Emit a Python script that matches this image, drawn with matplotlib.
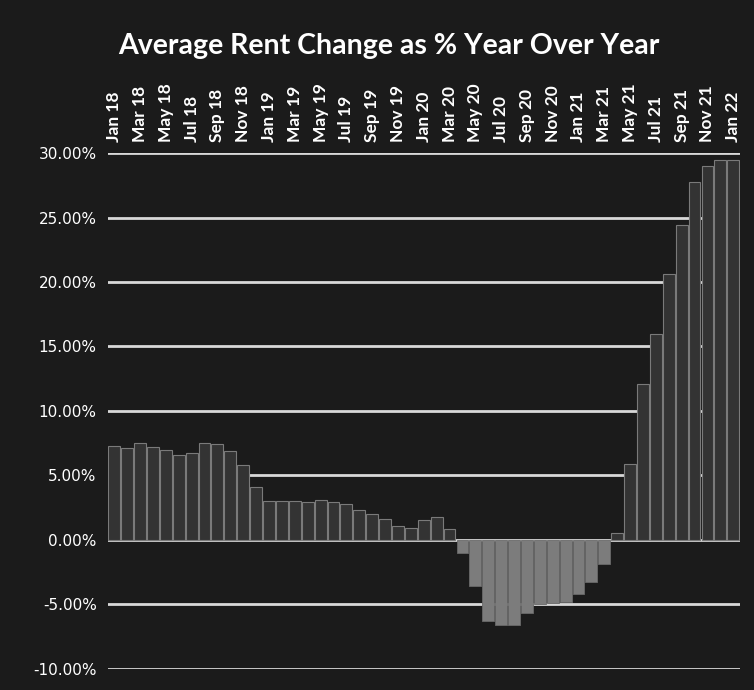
import numpy as np
import matplotlib.pyplot as plt

months = ["Jan", "Feb", "Mar", "Apr", "May", "Jun",
          "Jul", "Aug", "Sep", "Oct", "Nov", "Dec"]
labels = [f"{m} {y}" for y in ["18", "19", "20", "21"] for m in months] + ["Jan 22"]

# % change year over year
rent_change = [7.3, 7.1, 7.5, 7.2, 7.0, 6.6, 6.7, 7.5, 7.4, 6.9, 5.8, 4.1,
               3.0, 3.0, 3.0, 2.9, 3.1, 2.9, 2.8, 2.3, 2.0, 1.6, 1.1, 0.9,
               1.5, 1.8, 0.8, -1.0, -3.6, -6.3, -6.6, -6.6, -5.7, -5.0, -4.9, -4.8,
               -4.2, -3.3, -1.9, 0.5, 5.9, 12.1, 16.0, 20.6, 24.4, 27.8, 29.0, 29.5,
               29.5]
yticks = [-10, -5, 0, 5, 10, 15, 20, 25, 30]

bg = "#1b1b1b"
fig = plt.figure(figsize=(7.54, 6.9), dpi=100, facecolor=bg)
ax = fig.add_axes([0.143, 0.031, 0.838, 0.747], facecolor=bg)

x = np.arange(len(rent_change))
vals = np.array(rent_change)
pos = vals >= 0

# gridlines behind the bars
for yv in yticks:
    ax.axhline(yv, color="#d8d8d8", lw=2, zorder=1)

ax.bar(x[pos], vals[pos], width=0.92, color="#333333",
       edgecolor="#7a7a7a", linewidth=0.8, zorder=2)
ax.bar(x[~pos], vals[~pos], width=0.92, color="#7c7c7c",
       edgecolor="#6a6a6a", linewidth=0.6, zorder=2)

ax.set_xlim(-0.5, len(rent_change) - 0.5)
ax.set_ylim(-10, 30)
ax.set_yticks(yticks)
ax.set_yticklabels([f"{v:.2f}%" for v in yticks], color="white",
                   fontsize=11, family="Liberation Sans Narrow")
ax.set_xticks(x[::2])
ax.set_xticklabels(labels[::2], rotation=90, color="white", fontsize=12.5,
                   fontweight="bold", family="Lato")
ax.xaxis.tick_top()
ax.tick_params(length=0, pad=8)
ax.tick_params(axis="x", pad=8)
for s in ax.spines.values():
    s.set_visible(False)

fig.text(0.157, 0.934, "Average Rent Change as % Year Over Year", color="white",
         fontsize=20.5, fontweight="bold", family="Lato", va="center", ha="left")

fig.savefig("out.png", dpi=100, facecolor=bg)
